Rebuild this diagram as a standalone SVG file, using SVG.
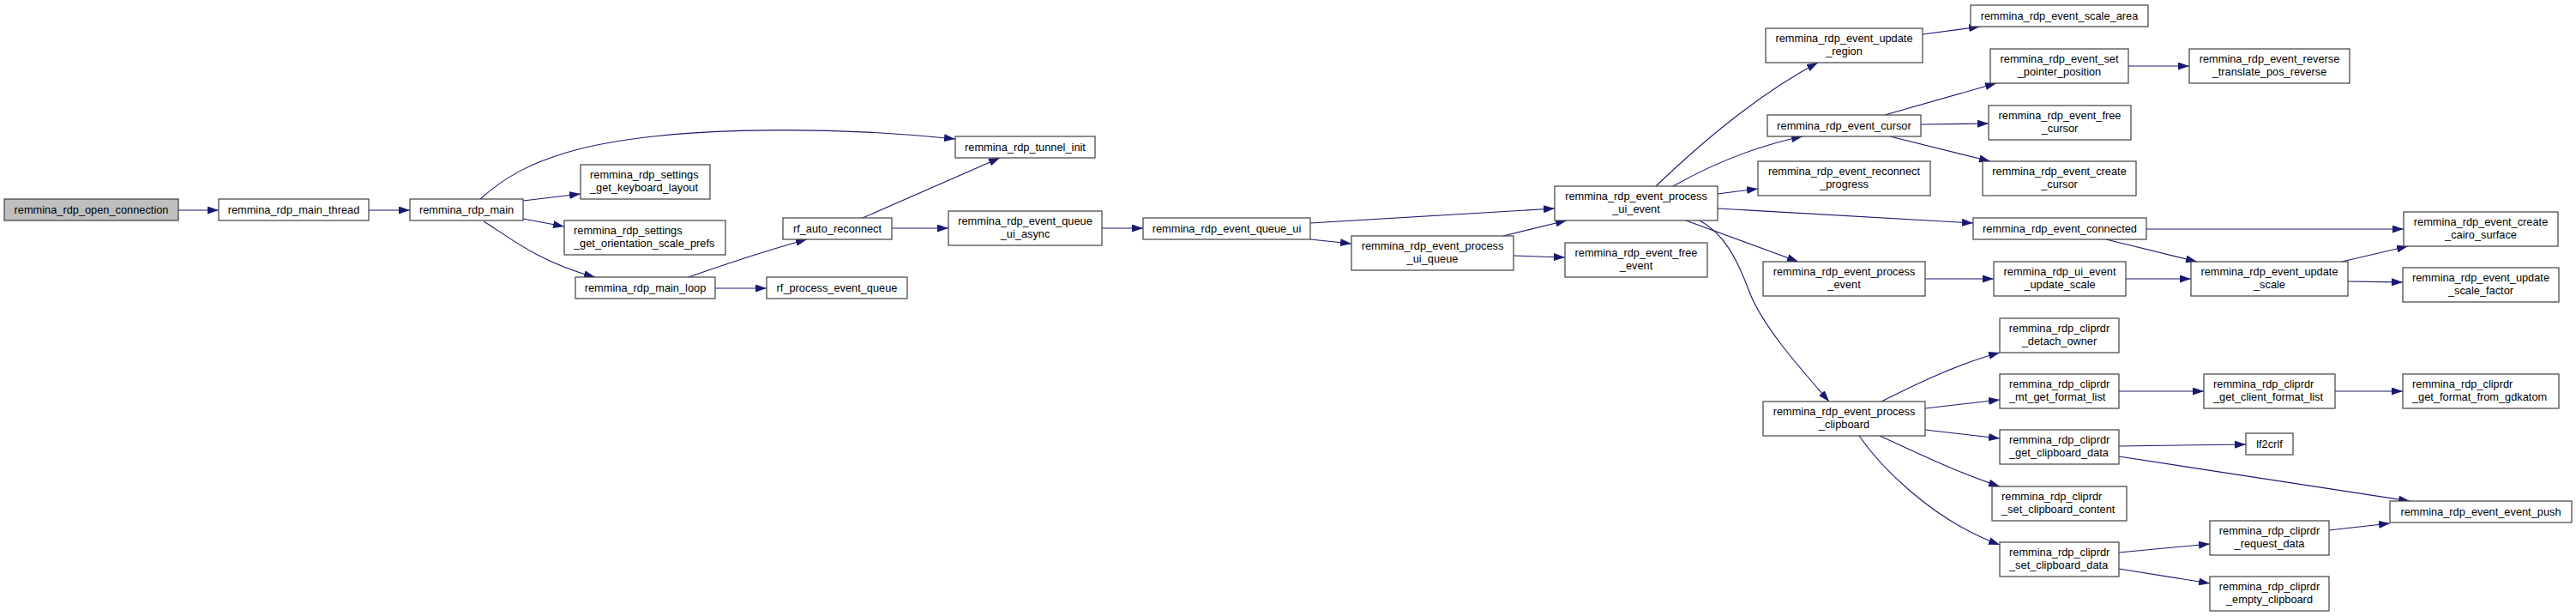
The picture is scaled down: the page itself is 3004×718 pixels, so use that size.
<svg xmlns="http://www.w3.org/2000/svg" width="3004" height="718" viewBox="0 0 3004 718">
<style>
.n rect{fill:#fff;stroke:#404040;stroke-width:1.2}
.n.root rect{fill:#bfbfbf}
.n text{font-family:"Liberation Sans",Arial,sans-serif;font-size:12.8px;fill:#000;text-anchor:middle}
.n text.l{text-anchor:start}
.e path{fill:none;stroke:#191970;stroke-width:1.1;marker-end:url(#ah)}
</style>
<defs>
<marker id="ah" markerUnits="userSpaceOnUse" markerWidth="13" markerHeight="9" viewBox="0 0 13 9" refX="13" refY="4.5" orient="auto">
<path d="M0,0 L13,4.5 L0,9 z" fill="#191970"/>
</marker>
</defs>
<rect width="3004" height="718" fill="#fff"/>
<g id="edges" class="e">
<path d="M208,245 L255,245"/>
<path d="M430,245 L478,245"/>
<path d="M560,232 C590,205 620,190 660,178 C760,148 950,145 1114,162"/>
<path d="M610,234 L677,226"/>
<path d="M610,255 L658,264"/>
<path d="M564,258 C585,270 625,305 694,323"/>
<path d="M803,323 C840,310 890,293 941,279"/>
<path d="M834,336 L894,336"/>
<path d="M1006,254 L1166,184"/>
<path d="M1040,266 L1106,266"/>
<path d="M1285,266 L1333,266"/>
<path d="M1528,260 L1813,243"/>
<path d="M1528,279 L1576,284"/>
<path d="M1753,275 L1827,257"/>
<path d="M1765,298 L1825,300"/>
<path d="M1931,217 C1980,170 2050,110 2120,73"/>
<path d="M1951,217 C1990,195 2040,172 2102,159"/>
<path d="M2003,226 L2050,220"/>
<path d="M2003,243 L2301,260"/>
<path d="M1966,257 L2097,305"/>
<path d="M1982,257 C2010,272 2025,300 2040,340 C2055,380 2100,430 2133,468"/>
<path d="M2245,325 L2325,325"/>
<path d="M2242,40 L2309,31"/>
<path d="M2198,134 L2328,97"/>
<path d="M2240,145 L2319,144"/>
<path d="M2204,159 L2321,188"/>
<path d="M2482,77 L2553,77"/>
<path d="M2503,267 L2803,267"/>
<path d="M2456,279 L2562,305"/>
<path d="M2479,325 L2555,325"/>
<path d="M2731,305 L2808,287"/>
<path d="M2738,328 L2802,329"/>
<path d="M2194,468 C2230,450 2280,425 2332,411"/>
<path d="M2245,476 L2332,466"/>
<path d="M2245,501 L2332,511"/>
<path d="M2192,508 C2230,525 2280,550 2332,567"/>
<path d="M2168,508 C2190,540 2250,605 2332,635"/>
<path d="M2471,456 L2570,456"/>
<path d="M2723,456 L2802,456"/>
<path d="M2471,520 L2619,518"/>
<path d="M2471,532 L2810,584"/>
<path d="M2471,644 L2577,634"/>
<path d="M2471,663 L2577,680"/>
<path d="M2716,618 L2787,610"/>
</g>
<g id="n0" class="n root"><rect x="5" y="232" width="203" height="25"/><text x="106.5" y="249">remmina_rdp_open_connection</text></g>
<g id="n1" class="n"><rect x="255" y="232" width="175" height="25"/><text x="342.5" y="249">remmina_rdp_main_thread</text></g>
<g id="n2" class="n"><rect x="478" y="232" width="132" height="25"/><text x="544" y="249">remmina_rdp_main</text></g>
<g id="n3" class="n"><rect x="1114" y="159" width="163" height="25"/><text x="1195.5" y="176">remmina_rdp_tunnel_init</text></g>
<g id="n4" class="n"><rect x="677" y="192" width="151" height="40"/><text class="l" x="688" y="208">remmina_rdp_settings</text><text class="l" x="688" y="223">_get_keyboard_layout</text></g>
<g id="n5" class="n"><rect x="658" y="257" width="188" height="40"/><text class="l" x="669" y="273">remmina_rdp_settings</text><text class="l" x="669" y="288">_get_orientation_scale_prefs</text></g>
<g id="n6" class="n"><rect x="671" y="323" width="163" height="25"/><text x="752.5" y="340">remmina_rdp_main_loop</text></g>
<g id="n7" class="n"><rect x="894" y="323" width="164" height="25"/><text x="976" y="340">rf_process_event_queue</text></g>
<g id="n8" class="n"><rect x="913" y="254" width="127" height="25"/><text x="976.5" y="271">rf_auto_reconnect</text></g>
<g id="n9" class="n"><rect x="1106" y="246" width="179" height="40"/><text x="1195.5" y="262">remmina_rdp_event_queue</text><text x="1195.5" y="277">_ui_async</text></g>
<g id="n10" class="n"><rect x="1333" y="254" width="195" height="25"/><text x="1430.5" y="271">remmina_rdp_event_queue_ui</text></g>
<g id="n11" class="n"><rect x="1576" y="275" width="189" height="40"/><text x="1670.5" y="291">remmina_rdp_event_process</text><text x="1670.5" y="306">_ui_queue</text></g>
<g id="n12" class="n"><rect x="1813" y="217" width="190" height="40"/><text x="1908" y="233">remmina_rdp_event_process</text><text x="1908" y="248">_ui_event</text></g>
<g id="n13" class="n"><rect x="1825" y="283" width="166" height="40"/><text x="1908" y="299">remmina_rdp_event_free</text><text x="1908" y="314">_event</text></g>
<g id="n14" class="n"><rect x="2059" y="33" width="183" height="40"/><text x="2150.5" y="49">remmina_rdp_event_update</text><text x="2150.5" y="64">_region</text></g>
<g id="n15" class="n"><rect x="2061" y="134" width="179" height="25"/><text x="2150.5" y="151">remmina_rdp_event_cursor</text></g>
<g id="n16" class="n"><rect x="2050" y="188" width="201" height="40"/><text x="2150.5" y="204">remmina_rdp_event_reconnect</text><text x="2150.5" y="219">_progress</text></g>
<g id="n17" class="n"><rect x="2301" y="254" width="202" height="25"/><text x="2402" y="271">remmina_rdp_event_connected</text></g>
<g id="n18" class="n"><rect x="2056" y="305" width="189" height="40"/><text x="2150.5" y="321">remmina_rdp_event_process</text><text x="2150.5" y="336">_event</text></g>
<g id="n19" class="n"><rect x="2056" y="468" width="189" height="40"/><text x="2150.5" y="484">remmina_rdp_event_process</text><text x="2150.5" y="499">_clipboard</text></g>
<g id="n20" class="n"><rect x="2298" y="6" width="207" height="25"/><text x="2401.5" y="23">remmina_rdp_event_scale_area</text></g>
<g id="n21" class="n"><rect x="2321" y="57" width="161" height="40"/><text x="2401.5" y="73">remmina_rdp_event_set</text><text x="2401.5" y="88">_pointer_position</text></g>
<g id="n22" class="n"><rect x="2319" y="123" width="166" height="40"/><text x="2402" y="139">remmina_rdp_event_free</text><text x="2402" y="154">_cursor</text></g>
<g id="n23" class="n"><rect x="2312" y="188" width="179" height="40"/><text x="2401.5" y="204">remmina_rdp_event_create</text><text x="2401.5" y="219">_cursor</text></g>
<g id="n24" class="n"><rect x="2325" y="305" width="154" height="40"/><text x="2402" y="321">remmina_rdp_ui_event</text><text x="2402" y="336">_update_scale</text></g>
<g id="n25" class="n"><rect x="2553" y="57" width="187" height="40"/><text x="2646.5" y="73">remmina_rdp_event_reverse</text><text x="2646.5" y="88">_translate_pos_reverse</text></g>
<g id="n26" class="n"><rect x="2803" y="247" width="180" height="40"/><text x="2893" y="263">remmina_rdp_event_create</text><text x="2893" y="278">_cairo_surface</text></g>
<g id="n27" class="n"><rect x="2555" y="305" width="183" height="40"/><text x="2646.5" y="321">remmina_rdp_event_update</text><text x="2646.5" y="336">_scale</text></g>
<g id="n28" class="n"><rect x="2802" y="312" width="182" height="40"/><text x="2893" y="328">remmina_rdp_event_update</text><text x="2893" y="343">_scale_factor</text></g>
<g id="n29" class="n"><rect x="2332" y="371" width="139" height="40"/><text x="2401.5" y="387">remmina_rdp_cliprdr</text><text x="2401.5" y="402">_detach_owner</text></g>
<g id="n30" class="n"><rect x="2332" y="436" width="139" height="40"/><text class="l" x="2343" y="452">remmina_rdp_cliprdr</text><text class="l" x="2343" y="467">_mt_get_format_list</text></g>
<g id="n31" class="n"><rect x="2332" y="501" width="139" height="40"/><text class="l" x="2343" y="517">remmina_rdp_cliprdr</text><text class="l" x="2343" y="532">_get_clipboard_data</text></g>
<g id="n32" class="n"><rect x="2323" y="567" width="157" height="40"/><text class="l" x="2334" y="583">remmina_rdp_cliprdr</text><text class="l" x="2334" y="598">_set_clipboard_content</text></g>
<g id="n33" class="n"><rect x="2332" y="632" width="139" height="40"/><text class="l" x="2343" y="648">remmina_rdp_cliprdr</text><text class="l" x="2343" y="663">_set_clipboard_data</text></g>
<g id="n34" class="n"><rect x="2570" y="436" width="153" height="40"/><text class="l" x="2581" y="452">remmina_rdp_cliprdr</text><text class="l" x="2581" y="467">_get_client_format_list</text></g>
<g id="n35" class="n"><rect x="2802" y="436" width="182" height="40"/><text class="l" x="2813" y="452">remmina_rdp_cliprdr</text><text class="l" x="2813" y="467">_get_format_from_gdkatom</text></g>
<g id="n36" class="n"><rect x="2619" y="505" width="55" height="25"/><text x="2646.5" y="522">lf2crlf</text></g>
<g id="n37" class="n"><rect x="2787" y="584" width="212" height="25"/><text x="2893" y="601">remmina_rdp_event_event_push</text></g>
<g id="n38" class="n"><rect x="2577" y="607" width="139" height="40"/><text x="2646.5" y="623">remmina_rdp_cliprdr</text><text x="2646.5" y="638">_request_data</text></g>
<g id="n39" class="n"><rect x="2577" y="672" width="139" height="40"/><text x="2646.5" y="688">remmina_rdp_cliprdr</text><text x="2646.5" y="703">_empty_clipboard</text></g>
</svg>
